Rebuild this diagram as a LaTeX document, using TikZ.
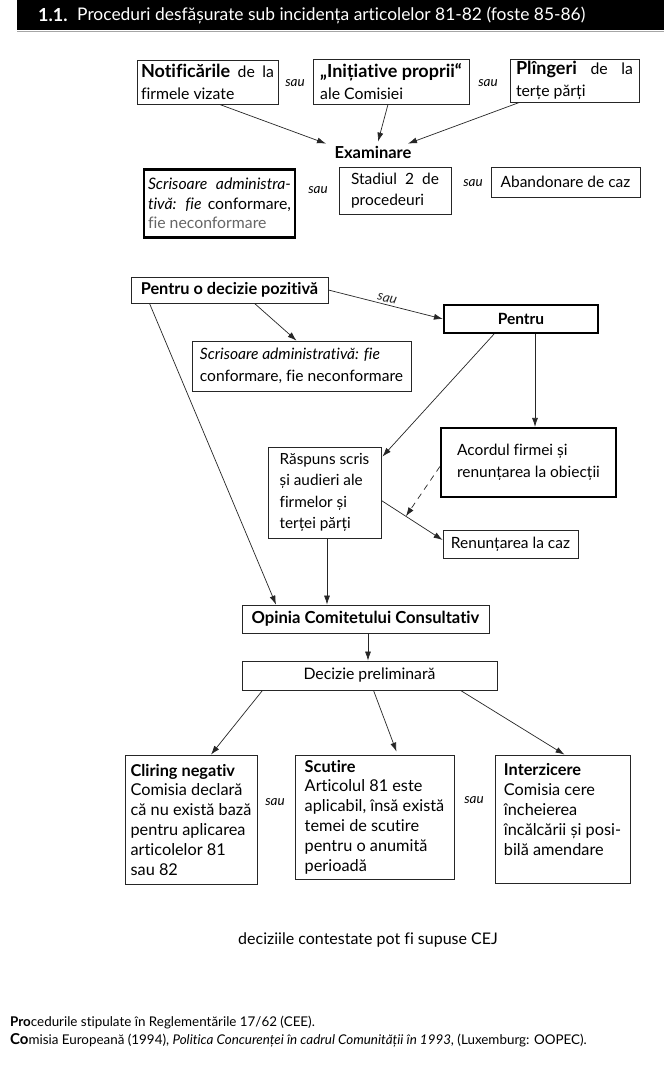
\documentclass[tikz,border=0pt]{standalone}
\usepackage{fontspec}
\setmainfont{Lato}[Ligatures=NoCommon]
\usetikzlibrary{arrows.meta,calc}
\newcommand{\bigbold}[1]{{\fontsize{18}{21}\selectfont\bfseries #1}}
\begin{document}
\begin{tikzpicture}[x=1pt,y=-1pt,
  box/.style={draw=black!85, line width=0.8pt, inner xsep=4pt, inner ysep=2pt, align=left,
    font=\fontsize{15.5}{21}\selectfont},
  jbox/.style={box, align=justify},
  thickbox/.style={box, draw=black, line width=2.2pt},
  arr/.style={-{Latex[length=9pt,width=6pt]}, line width=0.7pt, black!85},
  saulbl/.style={font=\itshape\fontsize{13.5}{15}\selectfont, inner sep=1pt},
  note/.style={font=\fontsize{13.4}{15}\selectfont, anchor=west, inner sep=0pt}]
\fill[white] (0,0) rectangle (664,1070);
\useasboundingbox (0,0) rectangle (664,1070);
% header
\fill[black] (17,0) rectangle (664,30);
\draw[black!35, line width=0.6pt] (17,31) -- (664,31);
\node[anchor=west, text=white, font=\bfseries\fontsize{18}{20}\selectfont, inner sep=0pt] (hnum) at (38,15) {1.1.};
\node[anchor=west, text=white, font=\fontsize{17.4}{20}\selectfont, inner sep=0pt] (htitle) at (77,15) {Proceduri desfășurate sub incidența articolelor 81-82 (foste 85-86)};
% top row
\node[jbox, text width=133pt, minimum height=44pt, font=\fontsize{15.8}{22}\selectfont] (notif) at (207.5,82) {\bigbold{Notificările} de la\linebreak firmele vizate};
\node[saulbl] (s1) at (295,83) {sau};
\node[box, inner xsep=6pt, minimum width=156pt, minimum height=45pt, font=\fontsize{15.8}{22}\selectfont] (init) at (391,81.5) {\bigbold{„Inițiative proprii“}\\ale Comisiei};
\node[saulbl] (s2) at (488,83) {sau};
\node[jbox, inner xsep=6pt, text width=117pt, minimum height=43pt, font=\fontsize{15.8}{22}\selectfont] (pling) at (574.5,80.5) {\bigbold{Plîngeri} de la\linebreak terțe părți};
\node[font=\bfseries\fontsize{16.5}{18}\selectfont, inner sep=1pt] (exam) at (373,152) {Examinare};
\draw[arr] ($(notif.south)+(12,0)$) -- ($(exam.north)+(-47,-1)$);
\draw[arr] ($(init.south)+(-3,0)$) -- ($(exam.north)+(5,-3)$);
\draw[arr] ($(pling.south)+(-55,0)$) -- ($(exam.north)+(35,-1)$);
% second row
\node[thickbox, align=justify, inner xsep=4pt, text width=143pt, minimum height=68pt, font=\fontsize{15.8}{19.5}\selectfont] (scris1) at (219.5,203.5)
  {\textit{Scrisoare administra-}\linebreak\textit{tivă: fie} conformare,\linebreak{\color{black!60}fie neconformare}};
\node[saulbl] (s3) at (318,190) {sau};
\node[jbox, inner xsep=12pt, text width=88pt, minimum height=47pt] (stad) at (395,190.5) {Stadiul 2 de\linebreak procedeuri};
\node[saulbl] (s4) at (473,183) {sau};
\node[box, minimum width=149pt, minimum height=30pt] (aband) at (565.5,182) {Abandonare de caz};
% middle
\node[box, minimum width=197pt, minimum height=26pt, font=\bfseries\fontsize{16.3}{18}\selectfont] (pdp) at (229.5,290) {Pentru o decizie pozitivă};
\node[thickbox, minimum width=154pt, minimum height=28pt, align=center, font=\bfseries\fontsize{15.5}{18}\selectfont] (pentru) at (521,319) {Pentru};
\draw[arr] (pdp.east) -- (pentru.west) node[midway, above=1pt, sloped, saulbl] (s5) {sau};
\node[box, minimum width=219pt, minimum height=50pt, font=\fontsize{15.6}{22}\selectfont] (scris2) at (301.5,366)
  {\textit{Scrisoare administrativă: fie}\\conformare, fie neconformare};
\draw[arr] ($(pdp.south)+(25,0)$) -- ($(scris2.north)+(-5,0)$);
\node[thickbox, minimum width=175pt, minimum height=69pt, font=\fontsize{15.5}{22}\selectfont] (acord) at (528.5,462.5)
  {Acordul firmei și\\renunțarea la obiecții};
\node[box, minimum width=113pt, minimum height=91pt, font=\fontsize{15.3}{21.5}\selectfont] (rasp) at (324.5,492.5)
  {Răspuns scris\\și audieri ale\\firmelor și\\terței părți};
\node[box, minimum width=135pt, minimum height=28pt] (renunt) at (510.5,544) {Renunțarea la caz};
\node[box, minimum width=247pt, minimum height=28pt, align=center, font=\bfseries\fontsize{16.6}{18}\selectfont] (opinia) at (365.5,619) {Opinia Comitetului Consultativ};
\node[box, minimum width=255pt, minimum height=29pt, align=center, font=\fontsize{15.8}{18}\selectfont] (decizie) at (369.5,675.5) {Decizie preliminară};
\draw[arr] ($(pentru.south)+(-27,0)$) -- ($(rasp.north east)+(1,10)$);
\draw[arr] ($(pentru.south)+(14,0)$) -- ($(acord.north)+(6.5,0)$);
\coordinate (r1) at ($(rasp.east)+(0,8)$);
\coordinate (r2) at ($(renunt.west)+(0,-4)$);
\coordinate (rm) at ($(r1)!0.4!(r2)$);
\draw[arr] (r1) -- (r2);
\draw[arr, dash pattern=on 6pt off 5pt] ($(acord.west)+(0,4)$) -- (rm);
\draw[arr] ($(pdp.south)+(-80,0)$) -- ($(opinia.north)+(-89.5,0)$);
\draw[arr] ($(rasp.south)+(2.5,0)$) -- ($(opinia.north)+(-38.5,0)$);
\draw[arr] ($(opinia.south)+(2.5,0)$) -- ($(decizie.north)+(-1.5,0)$);
% bottom row
\node[box, minimum width=132pt, minimum height=129pt, font=\fontsize{16.3}{19.8}\selectfont] (cliring) at (191,819.5)
  {\textbf{Cliring negativ}\\Comisia declară\\că nu există bază\\pentru aplicarea\\articolelor 81\\sau 82};
\node[saulbl] (s6) at (275,802) {sau};
\node[box, minimum width=159pt, minimum height=124pt, font=\fontsize{16.3}{19.8}\selectfont] (scutire) at (374.5,817)
  {\textbf{Scutire}\\Articolul 81 este\\aplicabil, însă există\\temei de scutire\\pentru o anumită\\perioadă};
\node[saulbl] (s7) at (474,800) {sau};
\node[box, minimum width=135pt, minimum height=128pt, font=\fontsize{16.3}{20}\selectfont] (interz) at (562.5,819)
  {\textbf{Interzicere}\\Comisia cere\\încheierea\\încălcării și posi-\\bilă amendare\\\mbox{}};
\draw[arr] ($(decizie.south)+(-107,0)$) -- ($(cliring.north)+(20,0)$);
\draw[arr] ($(decizie.south)+(4,0)$) -- ($(scutire.north)+(22,-3)$);
\draw[arr] ($(decizie.south)+(91,0)$) -- ($(interz.north)+(2,0)$);
% footer
\node[font=\fontsize{16}{18}\selectfont] (cej) at (368,940) {deciziile contestate pot fi supuse CEJ};
\node[note] (n1) at (10,1023) {\textbf{Pro}cedurile stipulate în Reglementările 17/62 (CEE).};
\node[note] (n2) at (10,1040) {{\bfseries\fontsize{15}{15}\selectfont Co}misia Europeană (1994), \textit{Politica Concurenței în cadrul Comunității în 1993}, (Luxemburg: OOPEC).};
\end{tikzpicture}
\end{document}
